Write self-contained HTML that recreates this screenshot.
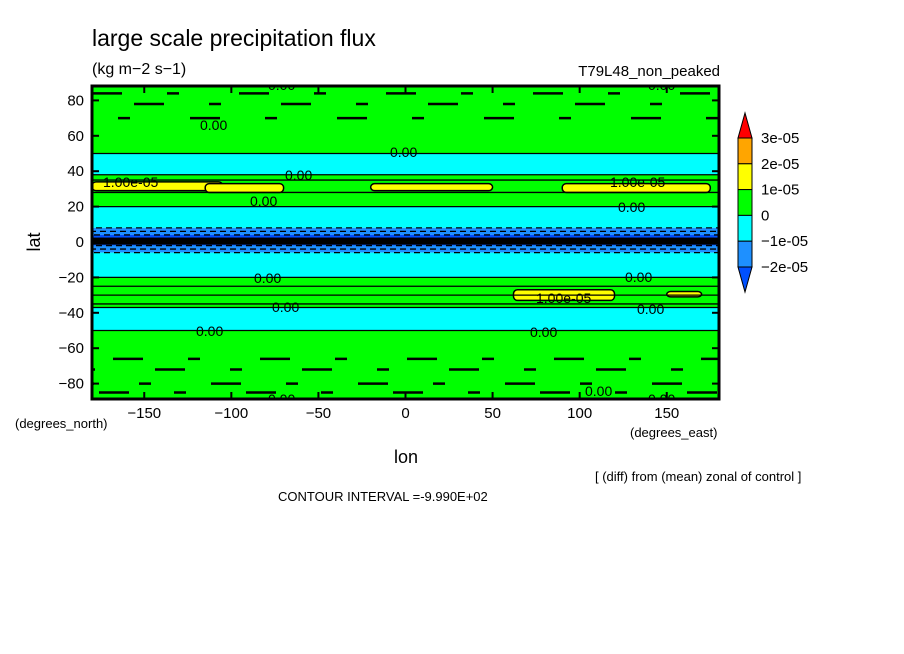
<!DOCTYPE html>
<html><head><meta charset="utf-8"><style>
body{margin:0;background:#fff;}
svg{display:block;font-family:"Liberation Sans",sans-serif;}
</style></head><body>
<svg id="c" width="904" height="654" viewBox="0 0 904 654" xmlns="http://www.w3.org/2000/svg">
<text x="92" y="46" font-size="23">large scale precipitation flux</text>
<text x="92" y="74" font-size="16">(kg m−2 s−1)</text>
<text x="720" y="76" font-size="15" text-anchor="end">T79L48_non_peaked</text>
<text x="40" y="242" font-size="18" transform="rotate(-90 40 242)" text-anchor="middle">lat</text>
<text x="406" y="463" font-size="18" text-anchor="middle">lon</text>
<text x="15" y="428" font-size="13">(degrees_north)</text>
<text x="630" y="437" font-size="13">(degrees_east)</text>
<text x="595" y="481" font-size="13">[ (diff) from (mean) zonal of control ]</text>
<text x="278" y="501" font-size="13">CONTOUR INTERVAL =-9.990E+02</text>
<g id="plot"></g>
<g id="legend"></g>
</svg>
<script>
const NS="http://www.w3.org/2000/svg";
// zonal bands: top latitude of each band and its level index (0 = -2e-5..-1e-5, 1 = -1e-5..0, 2 = 0..1e-5)
const bandTop=[88.5,50,38,20,8,4,-2,-6,-20,-37,-50];
const bandLevel=[2,1,2,1,0,-1,0,1,2,1,2];
// yellow patches: lon start, lon end, lat top, lat bottom
const patchLon0=[-180,-115,90,-20,62,150];
const patchLon1=[-105,-70,175,50,120,170];
const patchLatTop=[34,33,33,33,-27,-28];
const patchLatBot=[29,28,28,29,-33,-31];
// contour line latitudes
const contourLats=[84,78,70,50,38,35,28,20,8,6,4,2,0,-2,-4,-6,-20,-25,-30,-35,-37,-50,-66,-72,-80,-85];
const xTicks=[-150,-100,-50,0,50,100,150];
const yTicks=[80,60,40,20,0,-20,-40,-60,-80];
const levelColors=["#0050ff","#1e90ff","#00ffff","#00ff00","#ffff00","#ffa500","#ff0000"];
const legendLabels=["3e-05","2e-05","1e-05","0","−1e-05","−2e-05"];
const X0=92,X1=719,Y0=86,Y1=399;
const x=l=>X0+(l+180)/360*(X1-X0);
const y=a=>242-a*1.77;
const colorOf=lv=>levelColors[lv+1];
const plot=document.getElementById('plot');
function mk(tag,attrs,parent){const e=document.createElementNS(NS,tag);for(const k in attrs)e.setAttribute(k,attrs[k]);(parent||plot).appendChild(e);return e;}
const clip=mk('clipPath',{id:'pc'});mk('rect',{x:X0,y:Y0,width:X1-X0,height:Y1-Y0},clip);
const g=mk('g',{'clip-path':'url(#pc)'});
for(let i=0;i<bandTop.length;i++){
  const top=bandTop[i],bot=i+1<bandTop.length?bandTop[i+1]:-90;
  const r=mk('rect',{x:X0,y:y(top),width:X1-X0,height:y(bot)-y(top),fill:colorOf(bandLevel[i])},g);
  
  
}
const core=mk('rect',{x:X0,y:y(2.5),width:X1-X0,height:y(-1.5)-y(2.5),fill:'#000'},g);


for(let i=0;i<patchLon0.length;i++){
  const p=mk('rect',{x:x(patchLon0[i]),y:y(patchLatTop[i]),width:x(patchLon1[i])-x(patchLon0[i]),height:y(patchLatBot[i])-y(patchLatTop[i]),rx:4,fill:'#ffff00',stroke:'#000','stroke-width':1.5},g);
  
  
}
for(const la of contourLats){
  const dashed=la<10&&la>-10||(la<50&&la>38)||(la<-37&&la>-50);
  const high=Math.abs(la)>60;
  const l=mk('line',{x1:X0,x2:X1,y1:y(la),y2:y(la),stroke:'#000','stroke-width':high?2.5:1.3,'stroke-dasharray':high?'30 45 12 60':(dashed?'6 4':'none'),'stroke-dashoffset':la*7},g);
  
  
}
const fr=mk('rect',{x:X0,y:Y0,width:X1-X0,height:Y1-Y0,fill:'none',stroke:'#000','stroke-width':3});


for(const t of xTicks){
  mk('line',{x1:x(t),x2:x(t),y1:Y1,y2:Y1-7,stroke:'#000','stroke-width':2});
  mk('line',{x1:x(t),x2:x(t),y1:Y0,y2:Y0+7,stroke:'#000','stroke-width':2});
  const tx=mk('text',{x:x(t),y:418,'font-size':15,'text-anchor':'middle'});tx.textContent=(t<0?'−':'')+Math.abs(t);
  
  
}
for(const t of yTicks){
  mk('line',{x1:X0,x2:X0+7,y1:y(t),y2:y(t),stroke:'#000','stroke-width':2});
  mk('line',{x1:X1,x2:X1-7,y1:y(t),y2:y(t),stroke:'#000','stroke-width':2});
  const tx=mk('text',{x:84,y:y(t)+5,'font-size':15,'text-anchor':'end'});tx.textContent=(t<0?'−':'')+Math.abs(t);
  
  
}
const lbls=[[200,130,'0.00'],[268,90,'0.00'],[390,157,'0.00'],[285,180,'0.00'],[250,206,'0.00'],[103,187,'1.00e-05'],[610,187,'1.00e-05'],[618,212,'0.00'],[625,282,'0.00'],[254,283,'0.00'],[536,303,'1.00e-05'],[272,312,'0.00'],[637,314,'0.00'],[196,336,'0.00'],[530,337,'0.00'],[585,396,'0.00'],[268,404,'0.00'],[648,404,'0.00'],[648,90,'0.00']];
for(const [lx,ly,s] of lbls){const t=mk('text',{x:lx,y:ly,'font-size':14},g);t.textContent=s;
  
  }
const lg=document.getElementById('legend');
const LX=738,LW=14,LT=138,LH=25.8;
const up=mk('polygon',{points:`${LX},${LT} ${LX+LW},${LT} ${LX+LW/2},${LT-25}`,fill:levelColors[6],stroke:'#000'},lg);


for(let i=0;i<5;i++){
  const r=mk('rect',{x:LX,y:LT+i*LH,width:LW,height:LH,fill:levelColors[5-i],stroke:'#000'},lg);
  
  
}
const dn=mk('polygon',{points:`${LX},${LT+5*LH} ${LX+LW},${LT+5*LH} ${LX+LW/2},${LT+5*LH+25}`,fill:levelColors[0],stroke:'#000'},lg);


legendLabels.forEach((s,i)=>{const t=mk('text',{x:761,y:LT+i*LH+5,'font-size':15},lg);t.textContent=s;
  
  });
</script>
</body></html>
